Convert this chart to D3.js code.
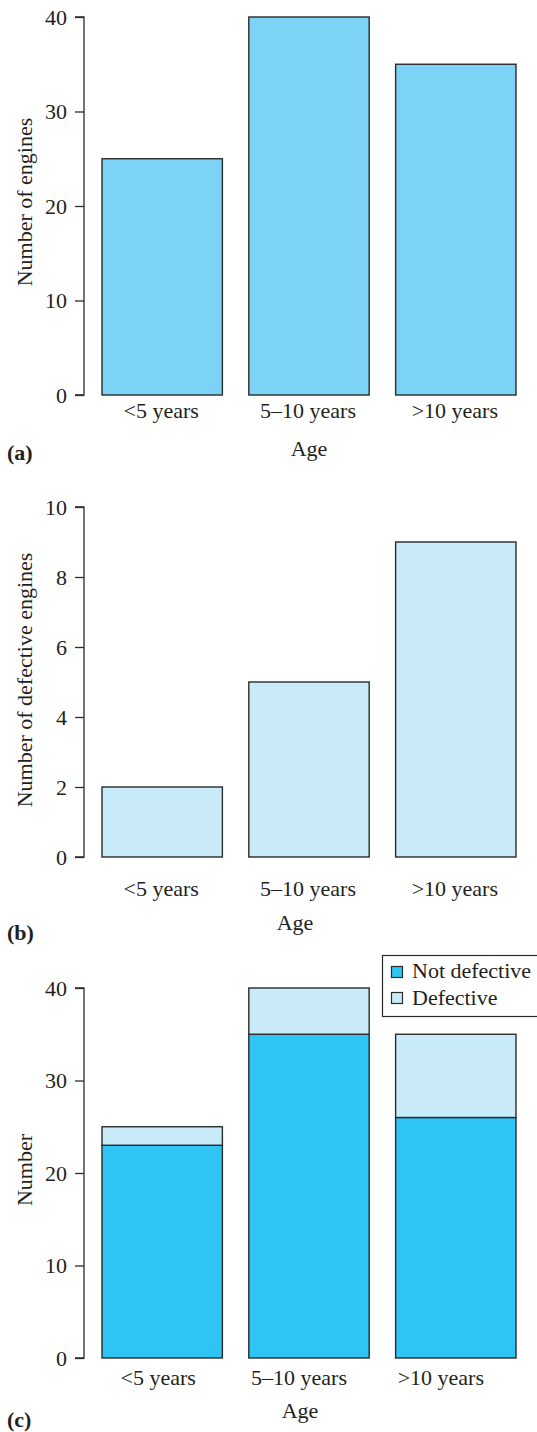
<!DOCTYPE html>
<html><head><meta charset="utf-8">
<script src="https://cdn.jsdelivr.net/npm/d3@7/dist/d3.min.js"></script>
<style>body{margin:0;background:#fff}svg{display:block}svg text{font-family:"Liberation Serif",serif !important;fill:#231f20}</style>
</head><body>
<script>
const categories = ["<5 years", "5\u201310 years", ">10 years"];
const totalEngines = [25, 40, 35];
const defectiveEngines = [2, 5, 9];
const notDefectiveEngines = [23, 35, 26];
const ticksA = [0, 10, 20, 30, 40];
const ticksB = [0, 2, 4, 6, 8, 10];
const ticksC = [0, 10, 20, 30, 40];
const legendLabels = ["Not defective", "Defective"];

const W = 537, H = 1432;
const svg = d3.select("body").append("svg").attr("width", W).attr("height", H);
const FS = 22;
const FF = "Liberation Serif, serif";
const stroke = "#2b2b2b";
const colA = "#7dd3f5", colB = "#c8eaf9", colC = "#2ec4f3";

const x = d3.scaleBand().domain(categories).range([102, 516]).paddingInner(0.18).paddingOuter(0);

function txt(sel) { return sel.style("font-family", FF).attr("font-size", FS).attr("fill", "#231f20"); }

function panel(cfg) {
  const g = svg.append("g");
  const y = d3.scaleLinear().domain(cfg.domain).range([cfg.y0, cfg.y1]);
  const ax = g.append("g").attr("transform", `translate(84,0)`)
    .call(d3.axisLeft(y).tickValues(cfg.ticks).tickSize(9).tickPadding(8).tickFormat(d3.format("d")));
  ax.attr("font-family", null);
  ax.select(".domain").attr("d", `M-9,${y(cfg.domain[0])}H0V${y(cfg.domain[1])}H-9`).attr("stroke", stroke).attr("stroke-width", 1.3);
  ax.selectAll(".tick line").attr("stroke", stroke).attr("stroke-width", 1.3);
  txt(ax.selectAll(".tick text")).attr("dy", "0.34em");
  cfg.stacks.forEach(s => {
    g.selectAll(null).data(categories).enter().append("rect")
      .attr("x", d => x(d))
      .attr("width", x.bandwidth())
      .attr("y", (d, i) => y(s.base[i] + s.vals[i]))
      .attr("height", (d, i) => y(s.base[i]) - y(s.base[i] + s.vals[i]))
      .attr("fill", s.color).attr("stroke", stroke).attr("stroke-width", 1.4);
  });
  txt(g.selectAll(null).data(categories).enter().append("text")
    .attr("x", (d, i) => x(d) + x.bandwidth() / 2 + cfg.labOff[i])
    .attr("y", cfg.labY).attr("text-anchor", "middle")).text(d => d);
  txt(g.append("text").attr("x", cfg.ageX).attr("y", cfg.ageY).attr("text-anchor", "middle")).text("Age");
  txt(g.append("text").attr("x", 7).attr("y", cfg.tagY).attr("font-weight", "bold")).text(cfg.tag);
  txt(g.append("text").attr("transform", `translate(32,${cfg.titleY}) rotate(-90)`).attr("text-anchor", "middle")).text(cfg.title);
  return {g, y};
}

const zeros = [0, 0, 0];
panel({domain: [0, 40], y0: 395, y1: 17, ticks: ticksA,
  stacks: [{vals: totalEngines, base: zeros, color: colA}],
  labY: 418, labOff: [-1, -1, -1], ageX: 309, ageY: 456, tagY: 460, tag: "(a)",
  title: "Number of engines", titleY: 202});

panel({domain: [0, 10], y0: 857, y1: 507, ticks: ticksB,
  stacks: [{vals: defectiveEngines, base: zeros, color: colB}],
  labY: 896, labOff: [-1, -1, -1], ageX: 295, ageY: 930, tagY: 940, tag: "(b)",
  title: "Number of defective engines", titleY: 680});

panel({domain: [0, 40], y0: 1358, y1: 988, ticks: ticksC,
  stacks: [{vals: notDefectiveEngines, base: zeros, color: colC},
           {vals: defectiveEngines, base: notDefectiveEngines, color: colB}],
  labY: 1385, labOff: [-4, -10, -15], ageX: 300, ageY: 1418, tagY: 1427, tag: "(c)",
  title: "Number", titleY: 1170});

const lg = svg.append("g");
lg.append("rect").attr("x", 382.5).attr("y", 955.5).attr("width", 160).attr("height", 61)
  .attr("fill", "#fff").attr("stroke", stroke).attr("stroke-width", 1.2);
[colC, colB].forEach((c, i) => {
  lg.append("rect").attr("x", 391.5).attr("y", 966.5 + i * 26).attr("width", 11).attr("height", 11)
    .attr("fill", c).attr("stroke", stroke).attr("stroke-width", 1.2);
  txt(lg.append("text").attr("x", 412).attr("y", 978 + i * 27)).text(legendLabels[i]);
});
</script>
</body></html>
